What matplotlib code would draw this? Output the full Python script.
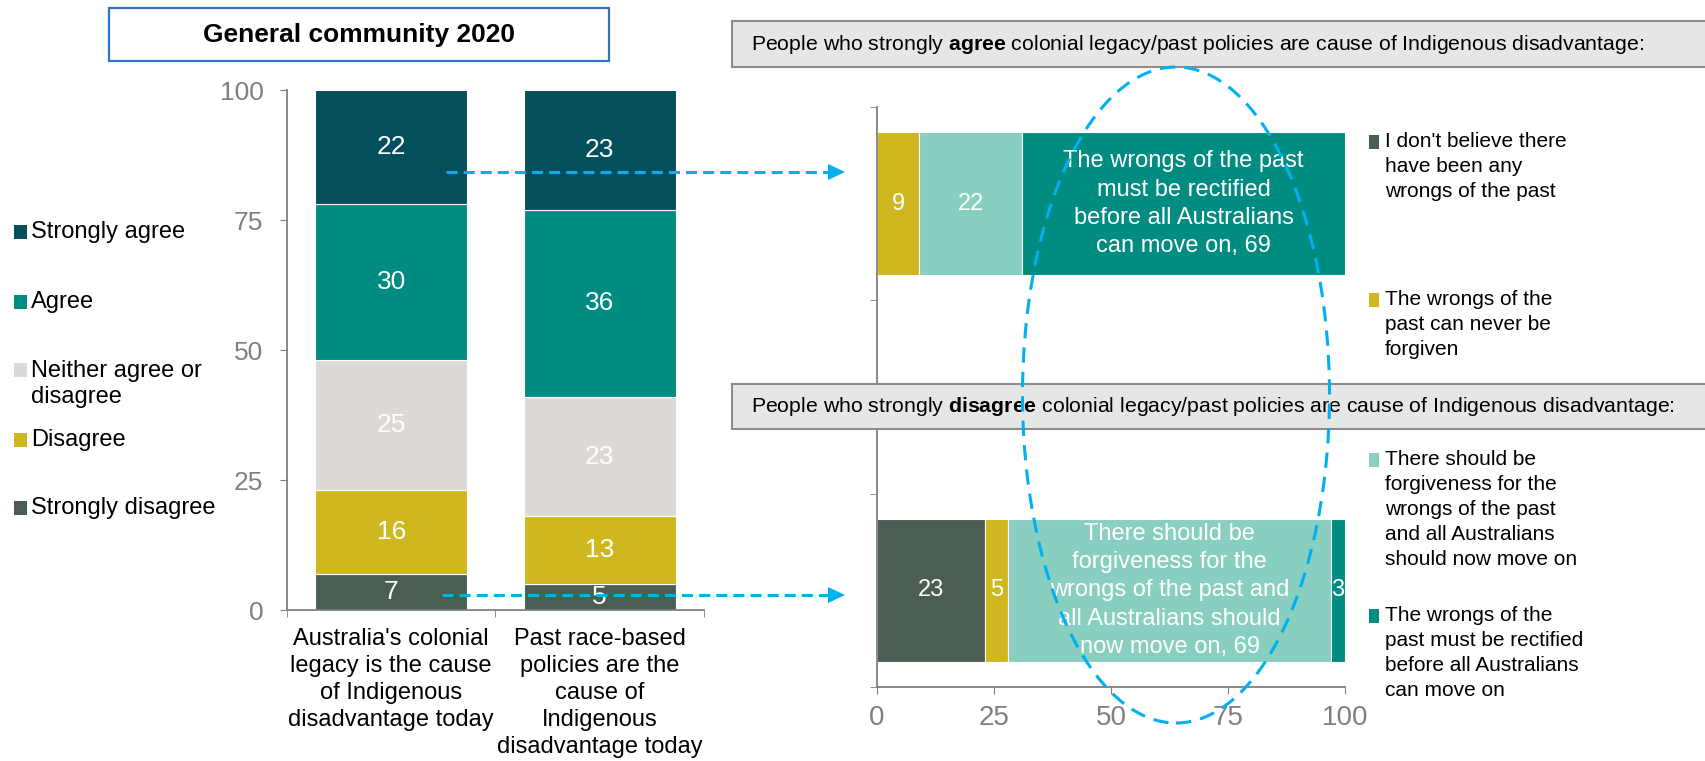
import matplotlib
matplotlib.use("Agg")
from matplotlib import pyplot as plt
from matplotlib.patches import Rectangle, Ellipse, Polygon
from matplotlib.lines import Line2D
import numpy as np

plt.rcParams["font.family"] = ["Liberation Sans", "DejaVu Sans"]
plt.rcParams["mathtext.fontset"] = "custom"
plt.rcParams["mathtext.rm"] = "Liberation Sans"
plt.rcParams["mathtext.bf"] = "Liberation Sans:bold"

# left chart data (general community 2020, %)
left_categories = [
    "Australia's colonial\nlegacy is the cause\nof Indigenous\ndisadvantage today",
    "Past race-based\npolicies are the\ncause of\nIndigenous\ndisadvantage today",
]
left_series = ["Strongly disagree", "Disagree", "Neither agree or\ndisagree", "Agree", "Strongly agree"]
strongly_disagree = [7, 5]
disagree = [16, 13]
neither = [25, 23]
agree = [30, 36]
strongly_agree = [22, 23]

# right chart data (subgroups, %)
right_groups = ["Strongly agree", "", "Strongly disagree"]
right_series = [
    "I don't believe there\nhave been any\nwrongs of the past",
    "The wrongs of the\npast can never be\nforgiven",
    "There should be\nforgiveness for the\nwrongs of the past\nand all Australians\nshould now move on",
    "The wrongs of the\npast must be rectified\nbefore all Australians\ncan move on",
]
no_wrongs = [0, 0, 23]
never_forgiven = [9, 0, 5]
forgiveness = [22, 0, 69]
rectified = [69, 0, 3]
long_labels = {
    0: "The wrongs of the past\nmust be rectified\nbefore all Australians\ncan move on",
    2: "There should be\nforgiveness for the\nwrongs of the past and\nall Australians should\nnow move on",
}

c_sdis = "#4B5E51"
c_dis = "#CFB81F"
c_neu = "#DDD9D5"
c_agr = "#008C80"
c_sagr = "#03505C"
c_light = "#88CFC0"
c_blue = "#00B0F0"
grey = "#808080"

W, H = 1706, 761
fig = plt.figure(figsize=(W / 100, H / 100), dpi=100)


def fx(x):
    return x / W


def fy(y):
    return 1 - y / H


# ---- left stacked columns
ax1 = fig.add_axes([fx(287), fy(610), fx(704) - fx(287), fy(90) - fy(610)])
x = np.arange(len(left_categories))
left_vals = [strongly_disagree, disagree, neither, agree, strongly_agree]
left_cols = [c_sdis, c_dis, c_neu, c_agr, c_sagr]
bottom = np.zeros(len(x))
for vals, col in zip(left_vals, left_cols):
    bars = ax1.bar(x, vals, 0.73, bottom=bottom, color=col, edgecolor="white", linewidth=0.8)
    for b, v in zip(bars, vals):
        ax1.text(b.get_x() + b.get_width() / 2, b.get_y() + v / 2, str(v),
                 ha="center", va="center", color="white", fontsize=19)
    bottom += vals

ax1.set_xlim(-0.5, 1.5)
ax1.set_ylim(0, 100)
ax1.set_yticks([0, 25, 50, 75, 100])
ax1.set_xticks(x)
ax1.set_xticklabels(left_categories, fontsize=17, linespacing=1.3, va="top")
ax1.set_xticks([-0.5, 0.5, 1.5], minor=True)
ax1.tick_params(axis="x", which="major", length=0, pad=13)
ax1.tick_params(axis="x", which="minor", length=5, direction="out", color=grey)
ax1.tick_params(axis="y", length=5, color=grey, labelcolor=grey, labelsize=19, pad=12)
for s in ["top", "right"]:
    ax1.spines[s].set_visible(False)
for s in ["left", "bottom"]:
    ax1.spines[s].set_color(grey)
    ax1.spines[s].set_linewidth(1.3)

# ---- right stacked bars
ax2 = fig.add_axes([fx(877), fy(687), fx(1345) - fx(877), fy(107) - fy(687)])
ypos = np.arange(len(right_groups))[::-1]
right_vals = [no_wrongs, never_forgiven, forgiveness, rectified]
right_cols = [c_sdis, c_dis, c_light, c_agr]
left = np.zeros(len(ypos))
for vals, col in zip(right_vals, right_cols):
    bars = ax2.barh(ypos, vals, 0.74, left=left, color=col, edgecolor="white", linewidth=0.8)
    for i, (b, v) in enumerate(zip(bars, vals)):
        if v == 0:
            continue
        txt = str(v)
        if i in long_labels and v == max(r[i] for r in right_vals):
            txt = f"{long_labels[i]}, {v}"
        ax2.text(b.get_x() + v / 2, ypos[i], txt, ha="center", va="center",
                 color="white", fontsize=17, linespacing=1.37)
    left += vals

ax2.set_xlim(0, 100)
ax2.set_ylim(-0.5, 2.5)
ax2.set_xticks([0, 25, 50, 75, 100])
ax2.set_yticks([])
ax2.set_yticks([-0.5, 0.5, 1.5, 2.5], minor=True)
ax2.tick_params(axis="x", length=5, color=grey, labelcolor=grey, labelsize=20, pad=8)
ax2.tick_params(axis="y", which="minor", length=5, color=grey)
for s in ["top", "right"]:
    ax2.spines[s].set_visible(False)
for s in ["left", "bottom"]:
    ax2.spines[s].set_color(grey)
    ax2.spines[s].set_linewidth(1.3)

# ---- title box
fig.add_artist(Rectangle((fx(109), fy(61)), fx(609) - fx(109), fy(8) - fy(61),
                         transform=fig.transFigure, facecolor="white",
                         edgecolor="#2E75C6", linewidth=1.6))
fig.text(fx(359), fy(35), "General community 2020", ha="center", va="center",
         fontsize=19, fontweight="bold")

# ---- left legend
legend_y = [508, 440, 370, 302, 232]
for name, col, yy in zip(left_series, left_cols, legend_y):
    fig.add_artist(Rectangle((fx(14), fy(yy + 7)), fx(13), 14 / H,
                             transform=fig.transFigure, facecolor=col, edgecolor="none"))
    ty = yy + 14 if "\n" in name else yy
    fig.text(fx(31), fy(ty), name, ha="left", va="center", fontsize=17, linespacing=1.26)

# ---- right legend
rlegend_y = [142, 300, 460, 616]
for name, col, yy in zip(right_series, right_cols, rlegend_y):
    fig.add_artist(Rectangle((fx(1369), fy(yy + 7)), fx(10), 14 / H,
                             transform=fig.transFigure, facecolor=col, edgecolor="none"))
    fig.text(fx(1385), fy(yy - 10), name, ha="left", va="top", fontsize=15, linespacing=1.4)

# ---- subgroup header boxes
for (y0, y1), word in [((21, 67), "agree"), ((384, 429), "disagree")]:
    fig.add_artist(Rectangle((fx(732), fy(y1)), fx(1720) - fx(732), fy(y0) - fy(y1),
                             transform=fig.transFigure, facecolor="#E6E6E6",
                             edgecolor="#8C8C8C", linewidth=1.5, zorder=3))
    fig.text(fx(751), fy((y0 + y1) / 2),
             "People who strongly $\\mathbf{" + word + "}$ colonial legacy/past policies are cause of Indigenous disadvantage:",
             ha="left", va="center", fontsize=15.3, zorder=4)

# ---- dashed arrows
for yy, x0 in [(172, 446), (595, 442)]:
    fig.add_artist(Line2D([fx(x0), fx(829)], [fy(yy), fy(yy)], transform=fig.transFigure,
                          color=c_blue, linewidth=2.2, dashes=[3.6, 2], zorder=5))
    fig.add_artist(Polygon([[fx(828), fy(yy - 8)], [fx(845), fy(yy)], [fx(828), fy(yy + 8)]],
                           closed=True, transform=fig.transFigure, facecolor=c_blue,
                           edgecolor="none", zorder=5))

# ---- dashed ellipse
fig.add_artist(Ellipse((fx(1176), fy(395)), fx(307), 656 / H, transform=fig.transFigure,
                       fill=False, edgecolor=c_blue, linewidth=2.2,
                       linestyle=(0, (5, 3)), zorder=6))

fig.savefig("out.png", dpi=100)
